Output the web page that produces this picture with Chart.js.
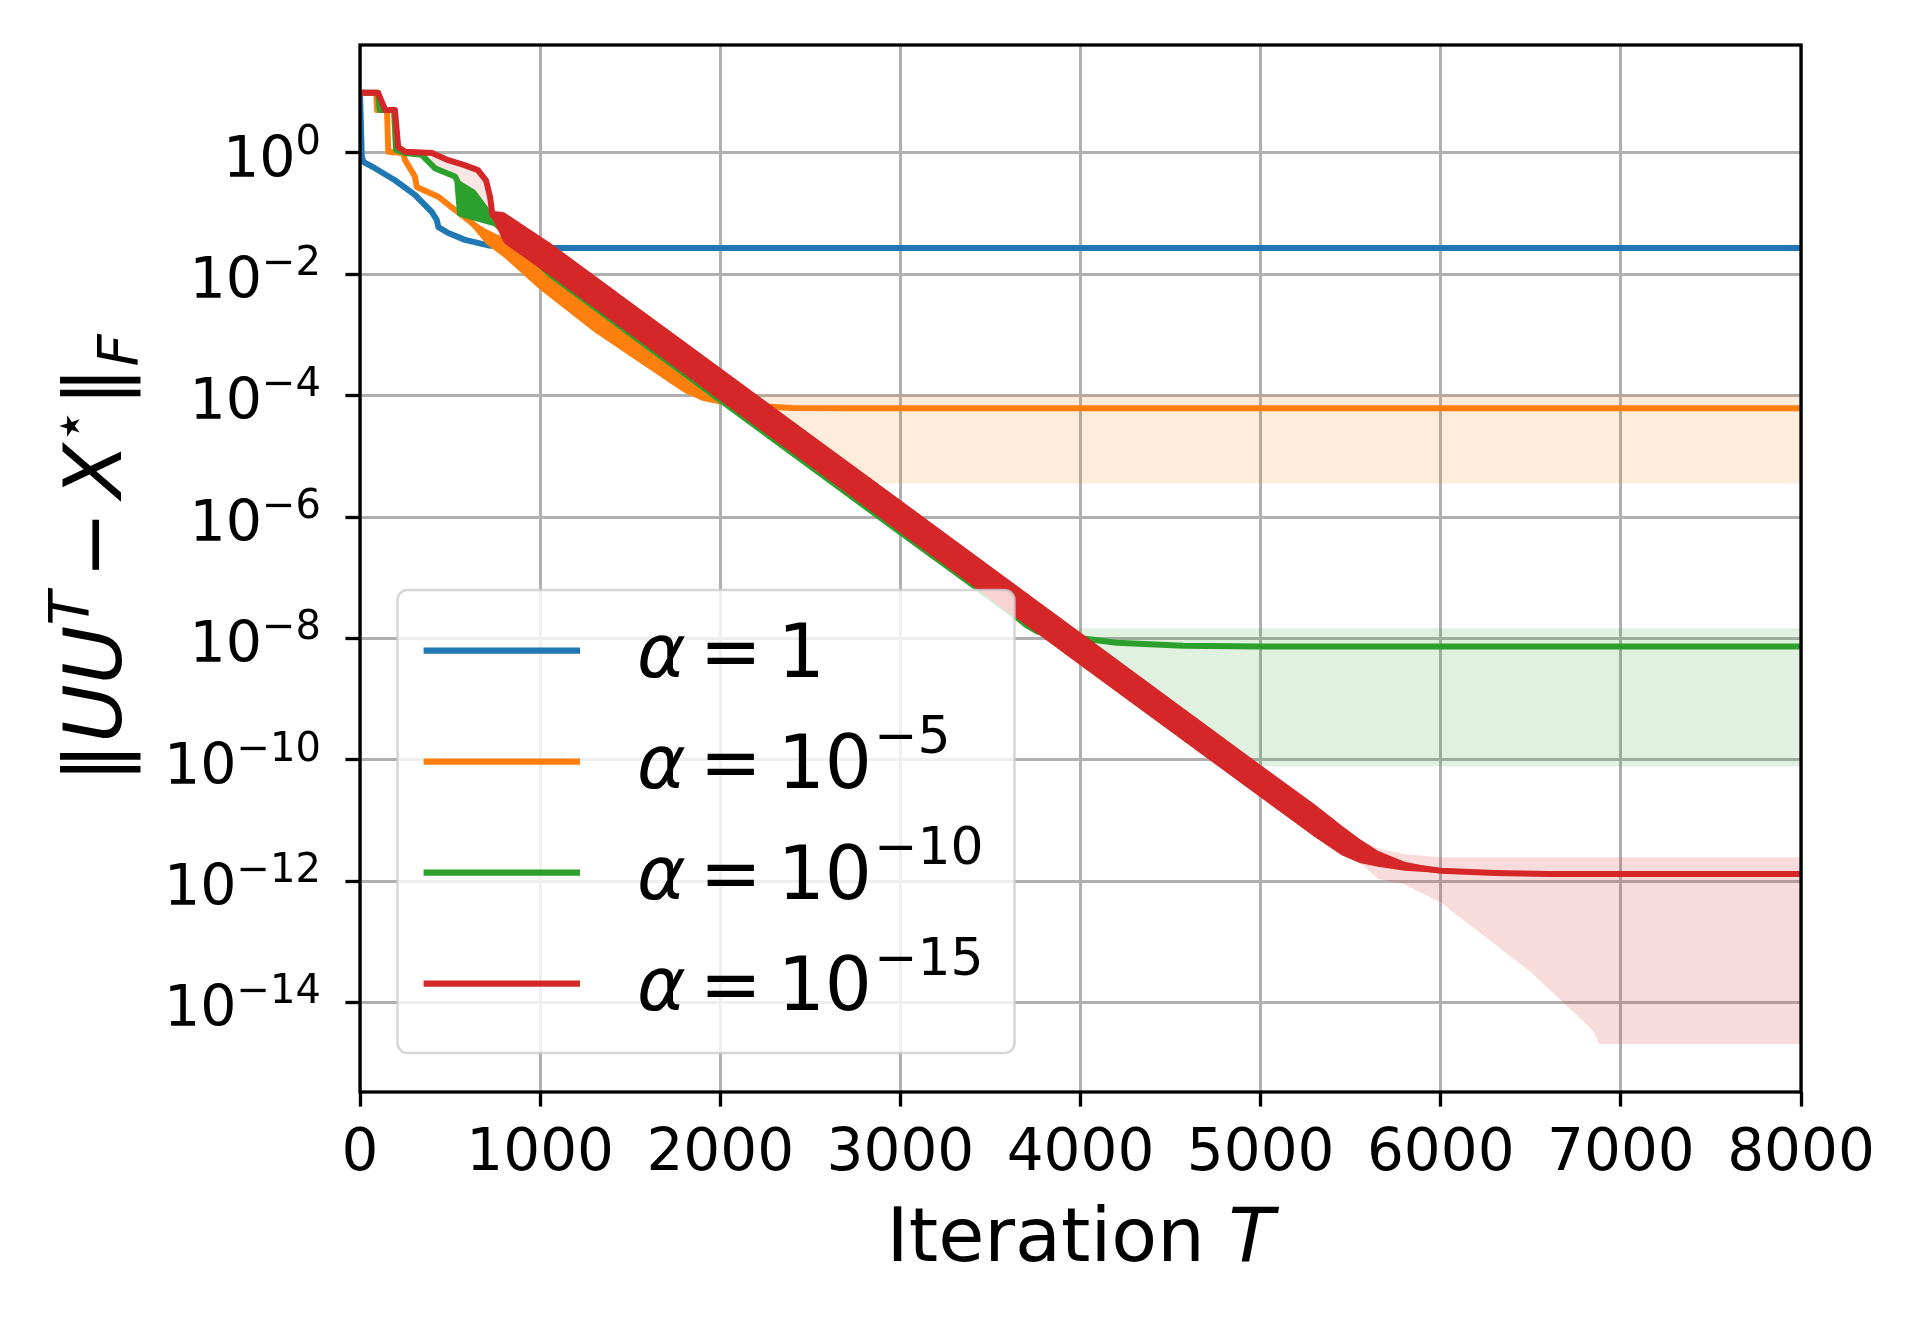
<!DOCTYPE html>
<html lang="en">
<head>
    <meta charset="UTF-8">
    <title>Error vs iteration for different alpha</title>
    <script src="https://cdn.jsdelivr.net/npm/chart.js"></script>
    <style>
        html, body { margin: 0; padding: 0; background: #ffffff; }
        #wrap { width: 1920px; height: 1320px; }
    </style>
</head>
<body>
<div id="wrap"><canvas id="chart" width="1920" height="1320"></canvas></div>
<script>
    // axis ticks
    const xTicks = [0, 1000, 2000, 3000, 4000, 5000, 6000, 7000, 8000];
    const yTickValues = [1, 1e-2, 1e-4, 1e-6, 1e-8, 1e-10, 1e-12, 1e-14];
    const yTickExponents = ["0", "\u22122", "\u22124", "\u22126", "\u22128", "\u221210", "\u221212", "\u221214"];

    // legend text (alpha values)
    const legendBase = ["1", "10", "10", "10"];
    const legendExponent = ["", "\u22125", "\u221210", "\u221215"];

    // alpha = 1
    const blueIter = [0, 10, 18, 83, 194, 305, 398, 426, 435, 490, 583, 712, 898, 1083, 8000];
    const blueErr = [9.8, 0.89, 0.71, 0.56, 0.355, 0.204, 0.107, 0.079, 0.060, 0.048, 0.037, 0.030, 0.028, 0.0272, 0.0272];

    // alpha = 1e-5
    const orangeIter = [0, 90, 95, 150, 157, 240, 250, 305, 315, 435, 527, 600, 712, 1000, 1300, 1600, 1800, 1900, 2000, 2100, 2200, 2400, 2700, 8000];
    const orangeErr = [9.8, 9.8, 5.1, 5.1, 1.05, 1.0, 0.76, 0.41, 0.275, 0.19, 0.115, 0.079, 0.042, 0.010, 2.1e-3, 5.0e-4, 1.9e-4, 1.2e-4, 8.7e-5, 7.6e-5, 6.8e-5, 6.3e-5, 6.2e-5, 6.2e-5];
    const orangeBandIter = [600, 700, 800, 1000, 1300, 1600, 1800, 1900, 2000, 2100, 2200, 2350, 2500];
    const orangeBandHi = [0.085, 0.056, 0.040, 0.0178, 4.0e-3, 8.9e-4, 3.2e-4, 1.9e-4, 1.2e-4, 8.9e-5, 7.6e-5, 6.8e-5, 6.5e-5];
    const orangeBandLo = [0.072, 0.0316, 0.019, 5.6e-3, 1.12e-3, 2.8e-4, 1.12e-4, 8.3e-5, 7.2e-5, 6.6e-5, 6.2e-5, 6.0e-5, 6.0e-5];
    const orangeSpreadIter = [2000, 2200, 2750, 8000];
    const orangeSpreadHi = [1.26e-4, 1.05e-4, 1.05e-4, 1.05e-4];
    const orangeSpreadLo = [7.9e-5, 4.0e-5, 3.6e-6, 3.6e-6];

    // alpha = 1e-10
    const greenIter = [0, 100, 110, 189, 200, 250, 342, 416, 527, 540, 555, 750, 1055, 2000, 3000, 3626, 3700, 3757, 3850, 4015, 4200, 4570, 5000, 8000];
    const greenErr = [9.8, 9.8, 5.1, 5.1, 1.12, 1.0, 0.93, 0.56, 0.41, 0.35, 0.1, 0.069, 0.010, 8.5e-5, 5.6e-7, 2.5e-8, 1.66e-8, 1.32e-8, 1.12e-8, 1.0e-8, 8.5e-9, 7.6e-9, 7.4e-9, 7.4e-9];
    const greenEarlyIter = [527, 546, 640, 750];
    const greenEarlyHi = [0.41, 0.36, 0.245, 0.089];
    const greenEarlyLo = [0.40, 0.1, 0.079, 0.063];
    const greenSpreadIter = [3900, 4000, 4500, 4890, 8000];
    const greenSpreadHi = [1.41e-8, 1.48e-8, 1.48e-8, 1.48e-8, 1.48e-8];
    const greenSpreadLo = [1.12e-8, 6.8e-9, 5.5e-10, 7.8e-11, 7.8e-11];

    // alpha = 1e-15
    const redIter = [0, 100, 140, 194, 212, 250, 400, 490, 580, 655, 700, 722, 735, 800, 1055, 1500, 2000, 2500, 3000, 3500, 4000, 4500, 5000, 5300, 5450, 5550, 5650, 5800, 6000, 6300, 6600, 8000];
    const redErr = [9.8, 9.8, 5.1, 5.1, 1.26, 1.05, 1.0, 0.76, 0.63, 0.52, 0.35, 0.19, 0.095, 0.060, 0.0178, 1.9e-3, 1.55e-4, 1.26e-5, 1.0e-6, 8.3e-8, 6.8e-9, 5.5e-10, 4.5e-11, 1.0e-11, 4.8e-12, 3.2e-12, 2.4e-12, 1.8e-12, 1.5e-12, 1.38e-12, 1.32e-12, 1.32e-12];
    const redBandIter = [735, 800, 1055, 1500, 2000, 2500, 3000, 3500, 4000, 4500, 5000, 5300, 5450, 5550, 5650, 5800, 6000];
    const redBandHi = [0.112, 0.105, 0.0331, 3.55e-3, 2.88e-4, 2.34e-5, 1.91e-6, 1.55e-7, 1.26e-8, 1.02e-9, 8.3e-11, 1.86e-11, 8.3e-12, 5.0e-12, 3.2e-12, 2.1e-12, 1.6e-12];
    const redBandLo = [0.083, 0.0324, 9.5e-3, 1.02e-3, 8.3e-5, 6.8e-6, 5.5e-7, 4.5e-8, 3.6e-9, 2.95e-10, 2.4e-11, 5.4e-12, 2.7e-12, 2.0e-12, 1.74e-12, 1.5e-12, 1.38e-12];
    const redEarlyIter = [400, 490, 580, 655, 700, 735];
    const redEarlyHi = [1.0, 0.76, 0.63, 0.52, 0.35, 0.095];
    const redEarlyLo = [0.56, 0.42, 0.3, 0.18, 0.12, 0.09];
    const redSpreadIter = [5550, 5650, 5800, 6000, 6500, 6845, 6880, 8000];
    const redSpreadHi = [5.0e-12, 3.5e-12, 2.8e-12, 2.5e-12, 2.5e-12, 2.5e-12, 2.5e-12, 2.5e-12];
    const redSpreadLo = [2.0e-12, 1.12e-12, 8.9e-13, 4.5e-13, 3.2e-14, 3.5e-15, 2.1e-15, 2.1e-15];

    const BLUE = "#1f77b4", ORANGE = "#ff7f0e", GREEN = "#2ca02c", RED = "#d62728";
    const FONT = '"DejaVu Sans"';

    function series(xs, ys) {
        return xs.map((x, i) => ({ x: x, y: ys[i] }));
    }

    function lineSet(xs, ys, color, order) {
        return {
            data: series(xs, ys), borderColor: color, borderWidth: 6,
            backgroundColor: color, fill: false, pointRadius: 0,
            borderJoinStyle: "round", order: order, clip: 0
        };
    }

    // a filled band: upper edge fills down to the next dataset (lower edge)
    function bandSets(xs, hi, lo, color, order) {
        return [
            { data: series(xs, hi), borderWidth: 0, backgroundColor: color, fill: "+1", pointRadius: 0, order: order, clip: 0 },
            { data: series(xs, lo), borderWidth: 0, fill: false, pointRadius: 0, order: order, clip: 0 }
        ];
    }

    // draw text made of several pieces (base, superscript, subscript)
    function piecesWidth(ctx, pieces) {
        let w = 0;
        pieces.forEach(p => { ctx.font = p.f; w += (p.gap || 0) + ctx.measureText(p.t).width; });
        return w;
    }
    function drawPieces(ctx, x, y, pieces) {
        let cx = x;
        pieces.forEach(p => {
            cx += p.gap || 0;
            ctx.font = p.f;
            ctx.fillText(p.t, cx, y + (p.dy || 0));
            cx += ctx.measureText(p.t).width;
        });
    }

    const mainLines = [];

    const decor = {
        id: "decor",
        afterDatasetsDraw(chart) {
            // legend box in the lower left of the plot
            const ctx = chart.ctx;
            ctx.save();
            const bx = 397.5, by = 590, bw = 617, bh = 463, r = 10;
            ctx.beginPath();
            ctx.moveTo(bx + r, by);
            ctx.arcTo(bx + bw, by, bx + bw, by + bh, r);
            ctx.arcTo(bx + bw, by + bh, bx, by + bh, r);
            ctx.arcTo(bx, by + bh, bx, by, r);
            ctx.arcTo(bx, by, bx + bw, by, r);
            ctx.closePath();
            ctx.fillStyle = "rgba(255,255,255,0.8)";
            ctx.fill();
            ctx.strokeStyle = "rgba(204,204,204,0.8)";
            ctx.lineWidth = 2.5;
            ctx.stroke();

            ctx.fillStyle = "#000";
            ctx.textAlign = "left";
            ctx.textBaseline = "alphabetic";
            mainLines.forEach((ds, i) => {
                const ly = 650.7 + i * 111;
                ctx.strokeStyle = ds.borderColor;
                ctx.lineWidth = 6.25;
                ctx.lineCap = "butt";
                ctx.beginPath();
                ctx.moveTo(423.6, ly);
                ctx.lineTo(580, ly);
                ctx.stroke();
                const pieces = [
                    { t: "\u03b1", f: "italic 74px " + FONT },
                    { t: "=", f: "74px " + FONT, gap: 14 },
                    { t: legendBase[i], f: "74px " + FONT, gap: 16 }
                ];
                if (legendExponent[i]) pieces.push({ t: legendExponent[i], f: "52px " + FONT, dy: -35, gap: 2 });
                drawPieces(ctx, 637, ly + 26.5, pieces);
            });
            ctx.restore();
        },
        afterDraw(chart) {
            const ctx = chart.ctx;
            const a = chart.chartArea;
            const ys = chart.scales.y;
            ctx.save();

            // axes frame
            ctx.strokeStyle = "#000";
            ctx.lineWidth = 3.3;
            ctx.strokeRect(a.left, a.top, a.right - a.left, a.bottom - a.top);

            // y tick labels 10^k
            ctx.fillStyle = "#000";
            ctx.textAlign = "left";
            ctx.textBaseline = "alphabetic";
            yTickValues.forEach((v, i) => {
                const py = ys.getPixelForValue(v);
                const pieces = [
                    { t: "10", f: "57px " + FONT },
                    { t: yTickExponents[i], f: "40px " + FONT, dy: -23 }
                ];
                const w = piecesWidth(ctx, pieces);
                drawPieces(ctx, 321 - w, py + 23.6, pieces);
            });

            // x axis title
            const xt = [
                { t: "Iteration ", f: "75px " + FONT },
                { t: "T", f: "italic 75px " + FONT }
            ];
            const xw = piecesWidth(ctx, xt);
            drawPieces(ctx, (a.left + a.right) / 2 - xw / 2, 1261, xt);

            // y axis title ||UU^T - X*||_F
            const yt = [
                { t: "\u2016", f: "80px " + FONT },
                { t: "UU", f: "italic 80px " + FONT },
                { t: "T", f: "italic 56px " + FONT, dy: -33 },
                { t: "\u2212", f: "80px " + FONT, gap: 13 },
                { t: "X", f: "italic 80px " + FONT, gap: 13 },
                { t: "\u22c6", f: "56px " + FONT, dy: -33 },
                { t: "\u2016", f: "80px " + FONT, gap: 2 },
                { t: "F", f: "italic 56px " + FONT, dy: 16 }
            ];
            const yw = piecesWidth(ctx, yt);
            ctx.translate(121, (a.top + a.bottom) / 2 - 10);
            ctx.rotate(-Math.PI / 2);
            drawPieces(ctx, -yw / 2, 0, yt);
            ctx.restore();
        }
    };

    const blueLine = lineSet(blueIter, blueErr, BLUE, 10);
    const orangeLine = lineSet(orangeIter, orangeErr, ORANGE, 7);
    const greenLine = lineSet(greenIter, greenErr, GREEN, 5);
    const redLine = lineSet(redIter, redErr, RED, 2);
    mainLines.push(blueLine, orangeLine, greenLine, redLine);

    const datasets = [
        ...bandSets(orangeSpreadIter, orangeSpreadHi, orangeSpreadLo, "rgba(255,127,14,0.15)", 20),
        ...bandSets(greenSpreadIter, greenSpreadHi, greenSpreadLo, "rgba(44,160,44,0.15)", 19),
        ...bandSets(redSpreadIter, redSpreadHi, redSpreadLo, "rgba(214,39,40,0.17)", 18),
        ...bandSets(redEarlyIter, redEarlyHi, redEarlyLo, "rgba(214,39,40,0.12)", 17),
        blueLine,
        ...bandSets(orangeBandIter, orangeBandHi, orangeBandLo, ORANGE, 8),
        orangeLine,
        ...bandSets(greenEarlyIter, greenEarlyHi, greenEarlyLo, GREEN, 6),
        greenLine,
        ...bandSets(redBandIter, redBandHi, redBandLo, RED, 3),
        redLine
    ];

    Chart.defaults.font.family = "DejaVu Sans";

    new Chart(document.getElementById("chart").getContext("2d"), {
        type: "line",
        data: { datasets: datasets },
        plugins: [decor],
        options: {
            responsive: false,
            devicePixelRatio: 1,
            animation: false,
            events: [],
            layout: { padding: { top: 45, right: 119, left: 0, bottom: 0 } },
            plugins: { legend: { display: false }, tooltip: { enabled: false } },
            scales: {
                x: {
                    type: "linear", min: 0, max: 8000,
                    afterBuildTicks: s => { s.ticks = xTicks.map(v => ({ value: v })); },
                    afterFit: s => { s.height = 228; },
                    ticks: {
                        font: { size: 58 }, color: "#000", padding: 14,
                        maxRotation: 0, autoSkip: false,
                        callback: v => String(v)
                    },
                    grid: { color: "#b0b0b0", lineWidth: 3, tickColor: "#000", tickLength: 14.6, tickWidth: 3.3 },
                    border: { display: false }
                },
                y: {
                    type: "logarithmic", min: 3.39e-16, max: 60,
                    afterBuildTicks: s => { s.ticks = yTickValues.map(v => ({ value: v })); },
                    afterFit: s => { s.width = 360; },
                    ticks: { display: false },
                    grid: { color: "#b0b0b0", lineWidth: 3, tickColor: "#000", tickLength: 14.6, tickWidth: 3.3 },
                    border: { display: false }
                }
            }
        }
    });
</script>
</body>
</html>
